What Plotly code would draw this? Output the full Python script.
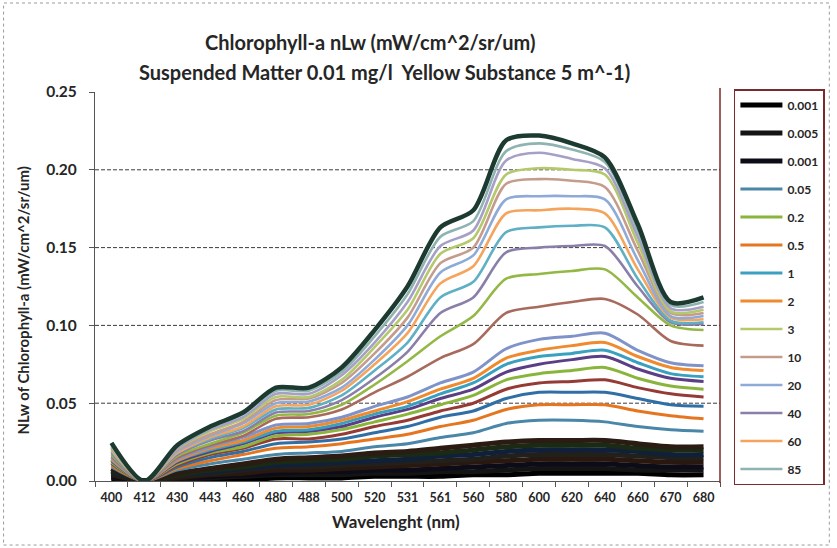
import plotly.graph_objects as go

# Wavelength categories (nm), in the order they appear on the axis
wavelengths = ["400", "412", "430", "443", "460", "480", "488", "500", "520", "531",
               "561", "560", "580", "600", "620", "640", "660", "670", "680"]

# nLw curves, high-signal band (outer envelope first, then downward)
upper_band = [
    [0.0245, 0, 0.023, 0.035, 0.044, 0.060, 0.060, 0.073, 0.097, 0.125, 0.163, 0.174, 0.219, 0.222, 0.217, 0.208, 0.165, 0.115, 0.118],
    [0.024, 0, 0.022, 0.034, 0.043, 0.058, 0.058, 0.070, 0.093, 0.120, 0.157, 0.167, 0.212, 0.217, 0.213, 0.205, 0.161, 0.113, 0.115],
    [0.023, 0, 0.021, 0.033, 0.041, 0.056, 0.056, 0.068, 0.089, 0.115, 0.151, 0.161, 0.206, 0.211, 0.207, 0.201, 0.157, 0.111, 0.112],
    [0.022, 0, 0.021, 0.032, 0.040, 0.054, 0.054, 0.065, 0.086, 0.110, 0.146, 0.156, 0.197, 0.201, 0.200, 0.197, 0.153, 0.109, 0.110],
    [0.0215, 0, 0.020, 0.030, 0.038, 0.052, 0.053, 0.063, 0.082, 0.105, 0.140, 0.150, 0.191, 0.194, 0.193, 0.189, 0.148, 0.108, 0.108],
    [0.021, 0, 0.019, 0.029, 0.037, 0.050, 0.051, 0.060, 0.078, 0.100, 0.134, 0.145, 0.181, 0.183, 0.183, 0.181, 0.142, 0.106, 0.106],
    [0.020, 0, 0.018, 0.028, 0.035, 0.048, 0.049, 0.058, 0.075, 0.095, 0.127, 0.138, 0.172, 0.174, 0.175, 0.172, 0.136, 0.105, 0.104],
    [0.019, 0, 0.018, 0.027, 0.034, 0.046, 0.047, 0.055, 0.071, 0.089, 0.118, 0.128, 0.160, 0.163, 0.164, 0.163, 0.130, 0.103, 0.102],
    [0.018, 0, 0.017, 0.026, 0.032, 0.044, 0.045, 0.052, 0.066, 0.083, 0.108, 0.118, 0.147, 0.150, 0.151, 0.151, 0.125, 0.102, 0.101],
    [0.017, 0, 0.016, 0.024, 0.031, 0.042, 0.043, 0.049, 0.062, 0.077, 0.093, 0.106, 0.130, 0.133, 0.135, 0.136, 0.118, 0.100, 0.097],
    [0.016, 0, 0.015, 0.023, 0.029, 0.040, 0.041, 0.046, 0.057, 0.067, 0.079, 0.088, 0.108, 0.112, 0.115, 0.117, 0.107, 0.090, 0.087],
]
upper_names = ["100", "85", "70", "3", "10", "20", "60", "1", "40", "5", "15"]

# nLw curves, middle band
middle_band = [
    [0.015, 0, 0.014, 0.022, 0.028, 0.036, 0.037, 0.041, 0.048, 0.054, 0.063, 0.070, 0.085, 0.091, 0.093, 0.095, 0.084, 0.076, 0.074],
    [0.014, 0, 0.013, 0.021, 0.026, 0.034, 0.035, 0.039, 0.045, 0.051, 0.059, 0.066, 0.079, 0.084, 0.087, 0.089, 0.080, 0.073, 0.071],
    [0.0135, 0, 0.013, 0.020, 0.025, 0.032, 0.033, 0.037, 0.043, 0.048, 0.056, 0.063, 0.075, 0.080, 0.082, 0.084, 0.076, 0.069, 0.067],
    [0.013, 0, 0.012, 0.019, 0.024, 0.031, 0.032, 0.035, 0.041, 0.046, 0.053, 0.059, 0.070, 0.075, 0.078, 0.080, 0.072, 0.066, 0.064],
    [0.012, 0, 0.011, 0.018, 0.022, 0.029, 0.030, 0.033, 0.038, 0.043, 0.049, 0.055, 0.065, 0.069, 0.071, 0.073, 0.066, 0.061, 0.059],
    [0.0115, 0, 0.010, 0.017, 0.021, 0.027, 0.027, 0.030, 0.035, 0.039, 0.045, 0.050, 0.059, 0.063, 0.064, 0.065, 0.060, 0.056, 0.054],
    [0.011, 0, 0.009, 0.015, 0.019, 0.024, 0.025, 0.027, 0.031, 0.035, 0.041, 0.045, 0.053, 0.057, 0.057, 0.057, 0.053, 0.049, 0.048],
    [0.010, 0, 0.008, 0.013, 0.017, 0.021, 0.022, 0.024, 0.027, 0.030, 0.035, 0.039, 0.046, 0.049, 0.049, 0.049, 0.045, 0.042, 0.040],
    [0.009, 0, 0.007, 0.011, 0.014, 0.017, 0.018, 0.019, 0.022, 0.024, 0.028, 0.031, 0.037, 0.039, 0.039, 0.038, 0.035, 0.033, 0.032],
]
middle_names = ["0.8", "2", "1", "0.3", "0.2", "0.1", "0.08", "0.5", "0.05"]

# nLw curves, low-signal band
low_band = [
    [0.008, 0, 0.005, 0.008, 0.011, 0.014, 0.015, 0.016, 0.018, 0.019, 0.021, 0.023, 0.025, 0.026, 0.026, 0.026, 0.024, 0.022, 0.022],
    [0.007, 0, 0.004, 0.007, 0.009, 0.012, 0.013, 0.014, 0.016, 0.017, 0.018, 0.020, 0.022, 0.023, 0.023, 0.023, 0.021, 0.020, 0.020],
    [0.006, 0, 0.004, 0.006, 0.008, 0.010, 0.011, 0.012, 0.013, 0.014, 0.016, 0.017, 0.019, 0.020, 0.020, 0.020, 0.019, 0.017, 0.017],
    [0.005, 0, 0.003, 0.005, 0.007, 0.009, 0.009, 0.010, 0.011, 0.012, 0.013, 0.014, 0.016, 0.017, 0.017, 0.017, 0.016, 0.015, 0.015],
    [0.004, 0, 0.002, 0.004, 0.005, 0.007, 0.007, 0.008, 0.009, 0.010, 0.011, 0.012, 0.013, 0.014, 0.014, 0.014, 0.013, 0.012, 0.012],
    [0.003, 0, 0.002, 0.003, 0.004, 0.005, 0.006, 0.006, 0.007, 0.007, 0.008, 0.009, 0.010, 0.011, 0.011, 0.011, 0.010, 0.009, 0.009],
    [0.002, 0, 0.001, 0.002, 0.003, 0.004, 0.004, 0.004, 0.005, 0.005, 0.006, 0.006, 0.007, 0.008, 0.008, 0.008, 0.007, 0.007, 0.007],
    [0.001, 0, 0.001, 0.001, 0.001, 0.002, 0.002, 0.002, 0.003, 0.003, 0.003, 0.004, 0.004, 0.005, 0.005, 0.005, 0.005, 0.004, 0.004],
]
low_names = ["0.03", "0.02", "0.01", "0.008", "0.003", "0.001", "0.005", "0.001"]

# Series shown in the legend, top to bottom
legend_labels = ["0.001", "0.005", "0.001", "0.05", "0.2", "0.5", "1", "2", "3",
                 "10", "20", "40", "60", "85"]

# ---- styling ----
upper_colors = ["#1d3a30", "#8fb3b0", "#a7a0c6", "#b4c86c", "#c59b8c", "#8eaad6",
                "#f4a45c", "#5fb0c4", "#8a7fa8", "#93b846", "#a86a5c"]
middle_colors = ["#7f93c8", "#f08a2e", "#3aa0c0", "#5b3f85", "#8ab53c",
                 "#953a35", "#2f6fa5", "#e5761f", "#4a86a8"]
low_colors = ["#2a1c12", "#1b2a14", "#10203a", "#22201a", "#2a1810",
              "#0c0c18", "#141414", "#000000"]

FONT = "Lato"
TXT = "#262626"

fig = go.Figure()


def add_series(values, name, color, width, rank):
    shown = rank is not None
    fig.add_trace(go.Scatter(
        x=wavelengths, y=values, name=name, mode="lines",
        line=dict(color=color, width=width, shape="spline", smoothing=0.8),
        showlegend=shown,
        legendgroup=f"g{rank}" if shown else None,
        legendrank=rank if shown else 1000,
        hoverinfo="name+y",
    ))


# legend rank for each (band, index) that carries a legend entry
legend_slots = {
    ("low", 7): 1, ("low", 6): 2, ("low", 5): 3,
    ("mid", 8): 4, ("mid", 4): 5, ("mid", 7): 6, ("mid", 2): 7, ("mid", 1): 8,
    ("up", 3): 9, ("up", 4): 10, ("up", 5): 11, ("up", 8): 12, ("up", 6): 13, ("up", 1): 14,
}

for i in range(len(low_band) - 1, -1, -1):
    r = legend_slots.get(("low", i))
    add_series(low_band[i], legend_labels[r - 1] if r else low_names[i], low_colors[i], 5, r)

for i in range(len(middle_band) - 1, -1, -1):
    r = legend_slots.get(("mid", i))
    add_series(middle_band[i], legend_labels[r - 1] if r else middle_names[i], middle_colors[i], 3, r)

for i in range(len(upper_band) - 1, -1, -1):
    r = legend_slots.get(("up", i))
    w = 4.5 if i == 0 else 2.6
    add_series(upper_band[i], legend_labels[r - 1] if r else upper_names[i], upper_colors[i], w, r)

# dashed horizontal gridlines
for v in [0.05, 0.10, 0.15, 0.20]:
    fig.add_shape(type="line", xref="paper", x0=0, x1=1, yref="y", y0=v, y1=v,
                  line=dict(color="#3c3c3c", width=1, dash="4px,2px"), layer="below")

# right edge of the plot area
fig.add_shape(type="line", xref="paper", x0=1.0, x1=1.0, yref="paper", y0=-0.005, y1=1.01,
              line=dict(color="#7a2a2a", width=1.5))

# dotted outer frame of the chart
fig.add_shape(type="rect", xref="paper", yref="paper",
              x0=(3 - 95) / 629, x1=(834 - 95) / 629,
              y0=(481 - 545) / 389, y1=(481 - 3) / 389,
              line=dict(color="#9a9a9a", width=1, dash="dot"))

# titles
title_font = dict(family=FONT, size=20, color=TXT, weight="bold")
fig.add_annotation(text="Chlorophyll-a nLw (mW/cm^2/sr/um)", xref="paper", yref="paper",
                   x=(372 - 95) / 629, y=(481 - 42) / 389, showarrow=False,
                   xanchor="center", yanchor="middle", font=title_font)
fig.add_annotation(text="Suspended Matter 0.01 mg/l&nbsp;&nbsp;Yellow Substance 5 m^-1)",
                   xref="paper", yref="paper",
                   x=(386 - 95) / 629, y=(481 - 72) / 389, showarrow=False,
                   xanchor="center", yanchor="middle", font=title_font)
fig.add_annotation(text="Wavelenght (nm)", xref="paper", yref="paper",
                   x=(398 - 95) / 629, y=(481 - 521) / 389, showarrow=False,
                   xanchor="center", yanchor="middle",
                   font=dict(family=FONT, size=17, color=TXT, weight="bold"))
fig.add_annotation(text="NLw of Chlorophyll-a (mW/cm^2/sr/um)", xref="paper", yref="paper",
                   x=(23 - 95) / 629, y=(481 - 300) / 389, showarrow=False, textangle=-90,
                   xanchor="center", yanchor="middle",
                   font=dict(family=FONT, size=15, color=TXT, weight="bold"))

fig.update_layout(
    width=837, height=548,
    margin=dict(l=95, r=113, t=92, b=67),
    paper_bgcolor="white", plot_bgcolor="white",
    font=dict(family=FONT, color=TXT),
    showlegend=True,
    legend=dict(
        x=(738 - 95) / 629, xanchor="left", y=(481 - 89) / 389, yanchor="top",
        bgcolor="white", bordercolor="#7a2a2a", borderwidth=1.5,
        traceorder="grouped", tracegroupgap=9, maxheight=460,
        font=dict(family=FONT, size=12, color=TXT, weight="bold"),
        itemwidth=42,
    ),
    xaxis=dict(
        type="category", tickson="boundaries", ticks="outside", ticklen=5,
        tickcolor="#555", showline=True, linecolor="#555", linewidth=1.2,
        showgrid=False, zeroline=False, ticklabelstandoff=5,
        tickfont=dict(family=FONT, size=12.5, color=TXT, weight="bold"),
        range=[-0.5, len(wavelengths) - 0.5],
    ),
    yaxis=dict(
        range=[0, 0.25], tickvals=[0, 0.05, 0.10, 0.15, 0.20, 0.25], tickformat=".2f",
        ticks="outside", ticklen=5, tickcolor="#555",
        showline=True, linecolor="#555", linewidth=1.2,
        showgrid=False, zeroline=False, ticklabelstandoff=9,
        tickfont=dict(family=FONT, size=15.5, color=TXT, weight="bold"),
    ),
)

fig.write_html("out.html")
